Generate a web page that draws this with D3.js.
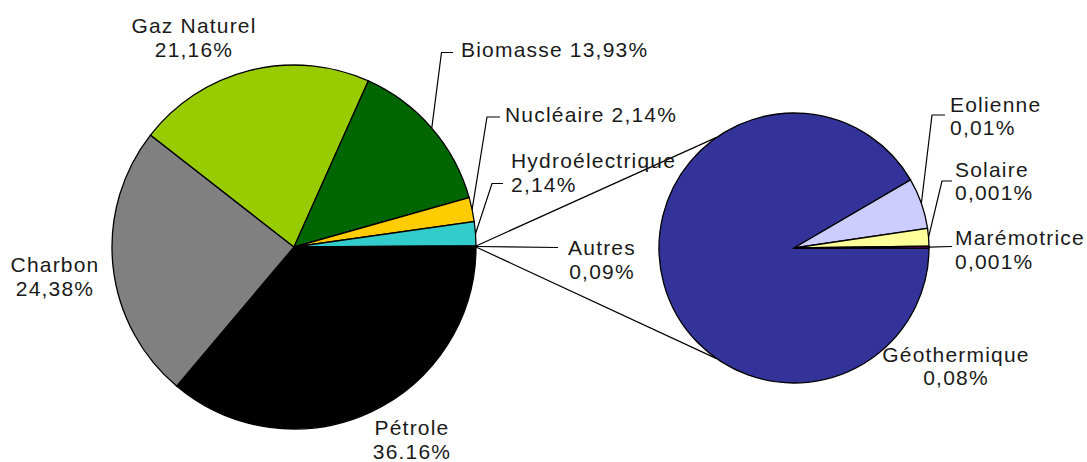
<!DOCTYPE html>
<meta charset="utf-8">
<script src="https://d3js.org/d3.v7.min.js"></script>
<style>
body{margin:0;background:#fff;}
text{font-family:"Liberation Sans",Arial,sans-serif;font-size:21px;letter-spacing:1.2px;fill:#1a1a1a;}
.slice{stroke:#000;stroke-width:1.3;}
.leader{fill:none;stroke:#000;stroke-width:1.2;}
</style>
<div id="vis"></div>
<script>

// Main pie data (share of total, %)
var mainNames  = ["Pétrole", "Charbon", "Gaz Naturel", "Biomasse", "Nucléaire", "Hydroélectrique", "Autres"];
var mainValues = [36.16, 24.38, 21.16, 13.93, 2.14, 2.14, 0.09];
var mainText   = ["36.16%", "24,38%", "21,16%", "13,93%", "2,14%", "2,14%", "0,09%"];
var mainColors = ["#000000", "#808080", "#99cc00", "#006600", "#ffcc00", "#33cccc", "#ffffff"];

// Breakdown of "Autres" (second pie)
var otherNames  = ["Géothermique", "Eolienne", "Solaire", "Marémotrice"];
var otherValues = [0.0826, 0.0055, 0.0019, 0.0002];
var otherText   = ["0,08%", "0,01%", "0,001%", "0,001%"];
var otherColors = ["#333399", "#ccccff", "#ffff99", "#ff00ff"];

var w = 1087, h = 462;
var c1 = {x: 294, y: 247, r: 182};
var c2 = {x: 794, y: 248, r: 135};

// label placement: x, baseline y, anchor, one or two lines, leader elbow
var mainLayout = [
  {x: 412, y: 435,   anchor: "middle", split: true},
  {x: 55,  y: 272,   anchor: "middle", split: true},
  {x: 194, y: 33,    anchor: "middle", split: true},
  {x: 461, y: 56.5,  anchor: "start", split: false, elbow: [441.5, 52.5], end: [453, 52.5]},
  {x: 505, y: 122,   anchor: "start", split: false, elbow: [487, 117], end: [500, 117]},
  {x: 511, y: 168,   anchor: "start", split: true, elbow: [492, 183.5], end: [503, 183.5]},
  {x: 602, y: 255,   anchor: "middle", split: true, end: [558, 247.5]}
];
var otherLayout = [
  {x: 956, y: 361.5, anchor: "middle", split: true},
  {x: 950, y: 111.5, anchor: "start", split: true, elbow: [932, 115], end: [945, 115]},
  {x: 955, y: 176.5, anchor: "start", split: true, elbow: [942, 181], end: [952, 181]},
  {x: 955, y: 245,   anchor: "start", split: true, end: [952, 246.5]}
];

var svg = d3.select("#vis").append("svg")
    .attr("width", w)
    .attr("height", h);

// slices start at 3 o'clock and run clockwise
var pie = d3.pie().sort(null)
    .startAngle(Math.PI / 2)
    .endAngle(Math.PI / 2 + 2 * Math.PI);

var mainArcs = pie(mainValues);
var otherArcs = pie(otherValues);

// connector lines between the two pies (drawn first)
var autres = mainArcs[6];
var pA = d3.pointRadial(autres.startAngle, c1.r);
var pB = d3.pointRadial(autres.endAngle, c1.r);
var top2 = d3.pointRadial((235 + 90) * Math.PI / 180, c2.r);
var bot2 = d3.pointRadial((125 + 90) * Math.PI / 180, c2.r);
svg.append("line").attr("class", "leader")
    .attr("x1", c1.x + pA[0]).attr("y1", c1.y + pA[1])
    .attr("x2", c2.x + top2[0]).attr("y2", c2.y + top2[1]);
svg.append("line").attr("class", "leader")
    .attr("x1", c1.x + pB[0]).attr("y1", c1.y + pB[1])
    .attr("x2", c2.x + bot2[0]).attr("y2", c2.y + bot2[1]);

function drawPie(arcs, colors, c) {
  var arc = d3.arc().innerRadius(0).outerRadius(c.r);
  svg.append("g")
      .attr("transform", "translate(" + c.x + "," + c.y + ")")
    .selectAll("path")
    .data(arcs)
    .enter().append("path")
      .attr("class", "slice")
      .attr("d", arc)
      .attr("fill", function(d, i) { return colors[i]; });
}
drawPie(mainArcs, mainColors, c1);
drawPie(otherArcs, otherColors, c2);

function drawLabels(arcs, names, texts, layout, c) {
  arcs.forEach(function(d, i) {
    var L = layout[i];
    if (L.end) {
      var mid = (d.startAngle + d.endAngle) / 2;
      var p = d3.pointRadial(mid, c.r);
      var pts = [[c.x + p[0], c.y + p[1]]];
      if (L.elbow) pts.push(L.elbow);
      pts.push(L.end);
      svg.append("path").attr("class", "leader")
          .attr("d", d3.line()(pts));
    }
    var t = svg.append("text")
        .attr("text-anchor", L.anchor)
        .attr("x", L.x)
        .attr("y", L.y);
    if (L.split) {
      t.append("tspan").attr("x", L.x).text(names[i]);
      t.append("tspan").attr("x", L.x).attr("dy", 23.5).text(texts[i]);
    } else {
      t.text(names[i] + " " + texts[i]);
    }
  });
}
drawLabels(mainArcs, mainNames, mainText, mainLayout, c1);
drawLabels(otherArcs, otherNames, otherText, otherLayout, c2);

</script>
